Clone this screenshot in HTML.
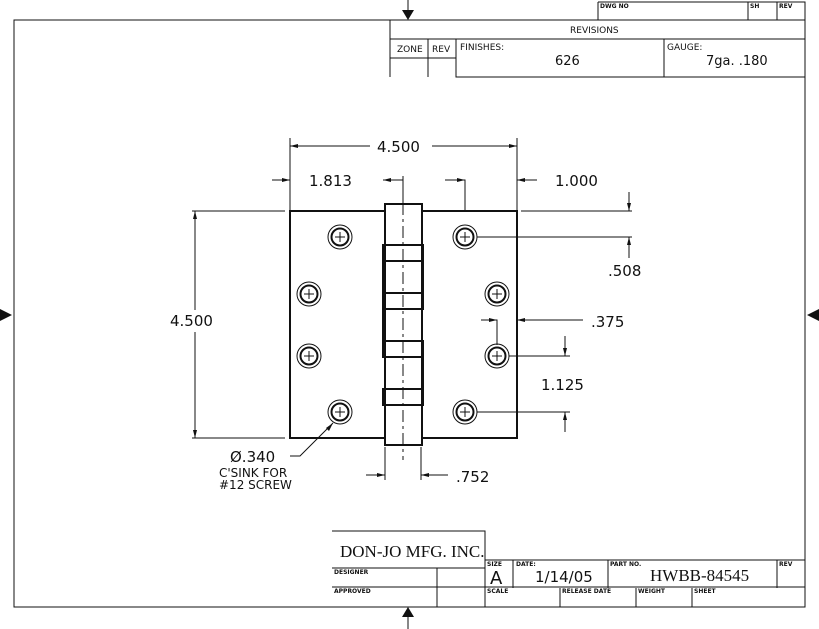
<!DOCTYPE html>
<html><head><style>body{margin:0;background:#fff}svg{display:block}text{font-family:"DejaVu Sans","Liberation Sans",sans-serif;fill:#111}</style></head>
<body>
<svg width="819" height="629" viewBox="0 0 819 629" xmlns="http://www.w3.org/2000/svg">
<defs>
<g id="h" stroke="#111" fill="none"><circle r="12" stroke-width="1"/><circle r="8.5" stroke-width="2"/><path d="M-5 0H5M0 -5V5"/></g>
</defs>
<g stroke="#111" fill="none" stroke-width="1">
<rect x="14" y="20" width="791" height="587"/>
<path d="M598 2H805V20M598 2V20M748 2V20M777 2V20"/>
<path d="M390 20V77M390 39H805M428 39V77M456 39V77H805M664 39V77M390 58H456"/>
<path d="M332 531H485V568M332 568H485M332 587H805M437 568V607M485 560H805M513 560V588M608 560V588M777 560V588M560 588V607M636 588V607M692 588V607M485 560V607"/>
</g>
<g fill="#111">
<polygon points="402,10 414,10 408,20"/><line x1="408" y1="0" x2="408" y2="10" stroke="#111"/>
<polygon points="402,617 414,617 408,607"/><line x1="408" y1="617" x2="408" y2="629" stroke="#111"/>
<polygon points="0,309 0,321 12,315"/>
<polygon points="819,309 819,321 807,315"/>
</g>
<g font-size="6" font-weight="bold">
<text x="600" y="8">DWG NO</text><text x="750" y="8">SH</text><text x="779" y="8">REV</text>
<text x="334" y="574">DESIGNER</text><text x="334" y="593">APPROVED</text>
<text x="487" y="566">SIZE</text><text x="516" y="566">DATE:</text><text x="610" y="566">PART NO.</text><text x="779" y="566">REV</text>
<text x="487" y="593">SCALE</text><text x="562" y="593">RELEASE DATE</text><text x="638" y="593">WEIGHT</text><text x="694" y="593">SHEET</text>
</g>
<g font-size="9">
<text x="570" y="33">REVISIONS</text>
<text x="397" y="52">ZONE</text><text x="432" y="52">REV</text>
<text x="460" y="50">FINISHES:</text><text x="667" y="50">GAUGE:</text>
</g>
<text x="555" y="65" font-size="13">626</text>
<text x="706" y="65" font-size="13">7ga. .180</text>
<text x="340" y="557" font-size="17" style="font-family:'Liberation Serif',serif">DON-JO MFG. INC.</text>
<text x="490" y="584" font-size="18">A</text>
<text x="535" y="582" font-size="15">1/14/05</text>
<text x="650" y="581" font-size="17" style="font-family:'Liberation Serif',serif">HWBB-84545</text>
<g stroke="#111" fill="none">
<rect x="290" y="211" width="227" height="227" stroke-width="2"/>
<rect x="385" y="204" width="37" height="241" fill="#fff" stroke-width="2"/>
<g stroke-width="2">
<rect x="383" y="245" width="40" height="16"/>
<rect x="383" y="293" width="40" height="16"/>
<rect x="383" y="341" width="40" height="16"/>
<rect x="383" y="389" width="40" height="16"/>
<path d="M423 245V309M423 341V405M383 261V293M383 309V341"/>
</g>
<path d="M403 180V460" stroke-dasharray="12,4,3,4"/>
</g>
<use href="#h" x="340" y="237"/><use href="#h" x="309" y="294"/><use href="#h" x="309" y="356"/><use href="#h" x="340" y="412"/>
<use href="#h" x="465" y="237"/><use href="#h" x="497" y="294"/><use href="#h" x="497" y="356"/><use href="#h" x="465" y="412"/>
<g stroke="#111" fill="none" stroke-width="1">
<path d="M290 138V211M517 138V211M290 146H370M432 146H517"/>
<path d="M272 180H290M383 180H403M403 176V204M445 180H465V211M537 180H517"/>
<path d="M521 211H632M477 237H632M629 192V211M629 237V258"/>
<path d="M481 320H497V345M517 320H583"/>
<path d="M509 356H570M477 412H570M565 336V356M565 412V432"/>
<path d="M192 211H285M192 438H285M195 211V310M195 332V438"/>
<path d="M385 447V480M421 447V480M366 475H385M421 475H448"/>
<path d="M333 423L300 456H290"/>
</g>
<g fill="#111">
<polygon points="290,146 298,144 298,148"/><polygon points="517,146 509,144 509,148"/>
<polygon points="290,180 282,178 282,182"/><polygon points="383,180 391,178 391,182"/>
<polygon points="465,180 457,178 457,182"/><polygon points="517,180 525,178 525,182"/>
<polygon points="629,211 627,203 631,203"/><polygon points="629,237 627,245 631,245"/>
<polygon points="497,320 489,318 489,322"/><polygon points="517,320 525,318 525,322"/>
<polygon points="565,356 563,348 567,348"/><polygon points="565,412 563,420 567,420"/>
<polygon points="195,211 193,219 197,219"/><polygon points="195,438 193,430 197,430"/>
<polygon points="385,475 377,473 377,477"/><polygon points="421,475 429,473 429,477"/>
<polygon points="333,423 326,428 329,431"/>
</g>
<g font-size="15">
<text x="377" y="152">4.500</text>
<text x="309" y="186">1.813</text>
<text x="555" y="186">1.000</text>
<text x="608" y="276">.508</text>
<text x="591" y="327">.375</text>
<text x="541" y="390">1.125</text>
<text x="170" y="326">4.500</text>
<text x="456" y="482">.752</text>
<text x="230" y="462">Ø.340</text>
</g>
<g font-size="12"><text x="219" y="477">C'SINK FOR</text><text x="219" y="489">#12 SCREW</text></g>
</svg>
</body></html>
